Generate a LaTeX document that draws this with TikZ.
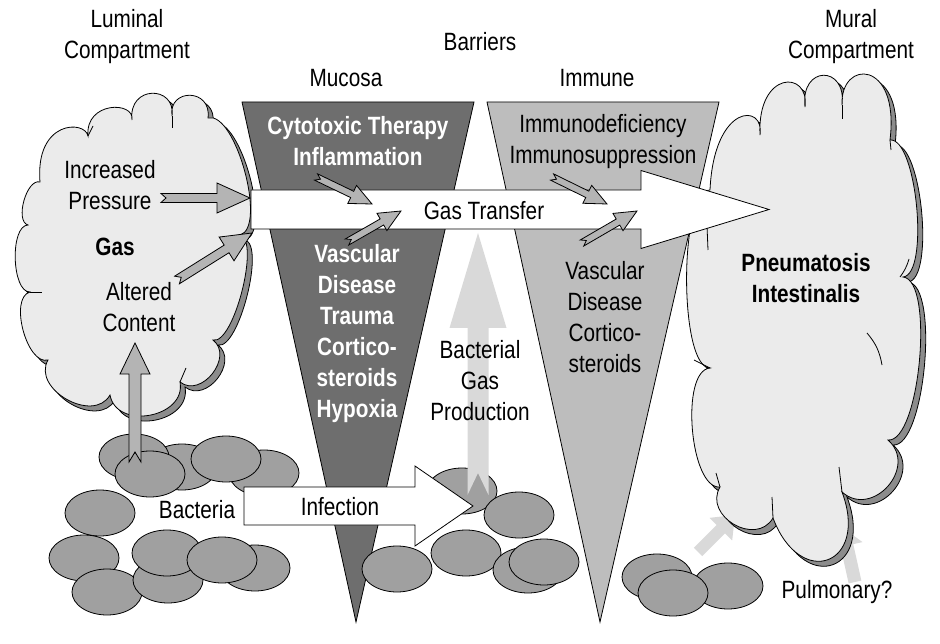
\documentclass[tikz,border=0pt]{standalone}
\usepackage{fontspec}
\setmainfont{Liberation Sans}[FakeStretch=0.83]
\usetikzlibrary{calc,shapes.geometric}

\definecolor{cloudfill}{HTML}{EBEBEB}
\definecolor{cloudshade}{HTML}{8C8C8C}
\definecolor{mucosafill}{HTML}{6E6E6E}
\definecolor{immunefill}{HTML}{BDBDBD}
\definecolor{bactfill}{HTML}{A0A0A0}
\definecolor{pale}{HTML}{D9D9D9}
\definecolor{midgray}{HTML}{B4B4B4}

% block arrow: style, tail, tip, shaft half width, head half width, head length, notch depth
\newcommand{\blockarrow}[7]{%
  \coordinate (#2#3) at ($(#3)!#6!(#2)$);
  \path[#1] ($(#2)!#7!(#3)$) -- ($(#2)!#4!90:(#3)$) -- ($(#2#3)!#4!90:(#3)$)
    -- ($(#2#3)!#5!90:(#3)$) -- (#3) -- ($(#2#3)!#5!-90:(#3)$)
    -- ($(#2#3)!#4!-90:(#3)$) -- ($(#2)!#4!-90:(#3)$) -- cycle;}

\begin{document}
\begin{tikzpicture}[
x=1pt, y=1pt,
line width=0.8pt,
lbl/.style={font=\fontsize{25}{31}\selectfont, align=center, inner sep=0pt},
lblb/.style={lbl, font=\fontsize{25}{31}\selectfont\bfseries},
lblw/.style={lblb, text=white},
bump/.style={bend left=90, looseness=#1},
cloudbody/.style={fill=cloudfill, draw=black},
cloudshadow/.style={fill=cloudshade, draw=black},
mucosa/.style={fill=mucosafill, draw=black},
immune/.style={fill=immunefill, draw=black},
germ/.style={ellipse, minimum width=70pt, minimum height=46pt, inner sep=0pt, fill=bactfill, draw=black},
bigarrow/.style={fill=white, draw=black},
smallarrow/.style={fill=midgray, draw=black},
palearrow/.style={fill=pale}]
\useasboundingbox (0,0) rectangle (940,-644);

% barriers
\path[mucosa] (242,-102) -- (474,-102) -- (356,-622) -- cycle;
\path[immune] (487,-102) -- (719,-102) -- (600,-622) -- cycle;

% pulmonary supply, behind the mural cloud
\coordinate (pua) at (698,-552);
\coordinate (pub) at (735,-515);
\coordinate (puc) at (855,-582);
\coordinate (pud) at (843,-528);
\blockarrow{palearrow}{pua}{pub}{6pt}{16pt}{20pt}{0pt}
\blockarrow{palearrow}{puc}{pud}{6.5pt}{16pt}{18pt}{0pt}

% clouds
\foreach \dx/\sty in {5/cloudshadow, 0/cloudbody}{
  \path[\sty, shift={(\dx,-\dx)}] (40,-182)
    .. controls (35,-120) and (85,-120) .. (88,-136)
    .. controls (85,-101) and (135,-101) .. (132,-120)
    .. controls (128,-85) and (176,-85) .. (172,-116)
    .. controls (168,-88) and (212,-88) .. (208,-118)
    to[bump=0.6] (240,-235) to[bump=0.5] (213,-340) to[bump=1.3] (180,-382)
    to[bump=1.3] (110,-395) to[bump=1.2] (48,-360) to[bump=0.8] (30,-292)
    to[bump=0.7] (28,-225) to[bump=0.8] (40,-182) -- cycle;
  \path[\sty, shift={(\dx,-\dx)}] (710,-190)
    .. controls (714,-103) and (765,-103) .. (760,-135)
    .. controls (757,-70) and (810,-70) .. (805,-107)
    .. controls (800,-65) and (847,-65) .. (842,-105)
    .. controls (840,-59) and (900,-59) .. (890,-140)
    to[bump=0.5] (903,-277) to[bump=0.5] (888,-440) to[bump=1.5] (842,-492)
    to[bump=2.7] (773,-518) to[bump=1.4] (720,-487) to[bump=0.65] (710,-368)
    to[bump=0.45] (710,-190) -- cycle;
}
% cloud creases
\draw (707,-226) -- (708,-250);
\draw (842,-105) -- (842,-119);
\draw (890,-140) -- (891,-150);
\draw (909,-259) to[bend left=10] (900,-277);
\draw (867,-333) to[bend left=15] (882,-365);
\draw (710,-368) -- (694,-360);
\draw (842,-492) -- (839,-467);
\draw (773,-518) -- (772,-497);
\draw (720,-487) -- (716,-473);
\draw (88,-136) -- (93,-126);
\draw (172,-116) -- (172,-128);
\draw (30,-292) -- (42,-292);
\draw (180,-382) -- (186,-368);

% bacteria
\foreach \bx/\by [count=\i] in {182/467, 134/457, 150/474, 264/473, 226/459,
  100/513, 84/558, 107/592, 168/580, 167/553, 255/568, 222/560,
  462/491, 519/515, 397/569, 466/553, 528/570, 544/562,
  657/577, 728/586, 673/593}
  \node[germ] (germ\i) at (\bx,-\by) {};

% gas transfer
\coordinate (gta) at (251,-209.5);
\coordinate (gtb) at (769,-209.5);
\blockarrow{bigarrow}{gta}{gtb}{19.5pt}{39pt}{128pt}{0pt}
% infection
\coordinate (ina) at (244,-506);
\coordinate (inb) at (473,-506);
\blockarrow{bigarrow}{ina}{inb}{19pt}{40pt}{58pt}{0pt}
% bacterial gas production
\coordinate (bga) at (478,-495);
\coordinate (bgb) at (478,-233);
\blockarrow{palearrow}{bga}{bgb}{10.5pt}{28.5pt}{95pt}{22pt}
% luminal arrows
\coordinate (pra) at (161,-198);
\coordinate (prb) at (250,-198);
\coordinate (aca) at (177,-280);
\coordinate (acb) at (252,-233);
\coordinate (vaa) at (135,-462);
\coordinate (vab) at (135,-343);
\blockarrow{smallarrow}{pra}{prb}{4.5pt}{15pt}{33pt}{5pt}
\blockarrow{smallarrow}{aca}{acb}{4.5pt}{14pt}{30pt}{5pt}
\blockarrow{smallarrow}{vaa}{vab}{6pt}{15pt}{31pt}{10pt}
% barrier arrows
\coordinate (mua) at (316,-177);
\coordinate (mub) at (372,-204);
\coordinate (muc) at (347,-242);
\coordinate (mud) at (401,-211);
\coordinate (ima) at (552,-177);
\coordinate (imb) at (607,-204);
\coordinate (imc) at (582,-243);
\coordinate (imd) at (637,-211);
\blockarrow{smallarrow}{mua}{mub}{3.5pt}{10pt}{22pt}{5pt}
\blockarrow{smallarrow}{muc}{mud}{3.5pt}{10pt}{22pt}{5pt}
\blockarrow{smallarrow}{ima}{imb}{3.5pt}{10pt}{22pt}{5pt}
\blockarrow{smallarrow}{imc}{imd}{3.5pt}{10pt}{22pt}{5pt}

% labels
\node[lbl] (lumen) at (127,-37) {Luminal\\Compartment};
\node[lbl] (barr) at (480,-42) {Barriers};
\node[lbl] (muclbl) at (346,-78) {Mucosa};
\node[lbl] (immlbl) at (597,-78) {Immune};
\node[lbl] (mural) at (851,-37) {Mural\\Compartment};
\node[lblw] (muctop) at (358,-141) {Cytotoxic Therapy\\Inflammation};
\node[lbl] (immtop) at (603,-142) {Immunodeficiency\\Immunosuppression};
\node[lblw] (mucbot) at (357,-334) {Vascular\\Disease\\Trauma\\Cortico-\\steroids\\Hypoxia};
\node[lbl] (immbot) at (605,-317) {Vascular\\Disease\\Cortico-\\steroids};
\node[lbl] (bgas) at (480,-381) {Bacterial\\Gas\\Production};
\node[lbl] (press) at (110,-185) {Increased\\Pressure};
\node[lblb] (gas) at (115,-247) {Gas};
\node[lbl] (alt) at (139,-307) {Altered\\Content};
\node[lblb] (pneu) at (806,-278) {Pneumatosis\\Intestinalis};
\node[lbl] (bactlbl) at (197,-510) {Bacteria};
\node[lbl] (pulm) at (837,-592) {Pulmonary?};
\node[lbl] (inf) at (340,-507) {Infection};
\node[lbl] (gt) at (484,-211) {Gas Transfer};
\end{tikzpicture}
\end{document}
